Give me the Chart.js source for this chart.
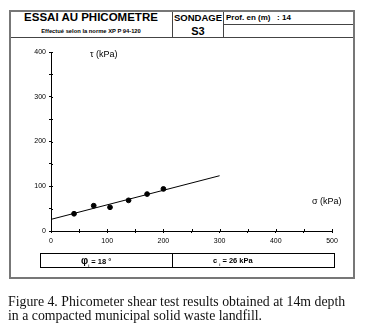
<!DOCTYPE html>
<html>
<head>
<meta charset="utf-8">
<script src="https://cdn.jsdelivr.net/npm/chart.js@4/dist/chart.umd.min.js"></script>
<style>
  body { margin: 0; background: #fff; font-family: "Liberation Sans", Arial, sans-serif; }
  #page { position: relative; width: 365px; height: 334px; overflow: hidden; }
  #frame { position: absolute; left: 9px; top: 10px; width: 342px; height: 265px; border: 2px solid #777; }
  .hd { position: absolute; font-weight: bold; color: #000; white-space: nowrap; }
  .line { position: absolute; background: #444; }
  #plot { position: absolute; left: 0; top: 0; }
  .lbl { position: absolute; font-size: 9px; color: #000; white-space: nowrap; }
  #res { position: absolute; left: 40px; top: 253px; width: 293px; height: 13px; border: 1.5px solid #000; }
  #res div { position: absolute; top: 0; height: 13px; line-height: 13px; font-size: 7.5px; font-weight: bold; white-space: nowrap; }
  #caption { position: absolute; left: 8px; top: 295px; font-family: "Liberation Serif", "Times New Roman", serif; font-size: 13.8px; line-height: 14px; color: #111; white-space: nowrap; }
</style>
</head>
<body>
<div id="page">
  <div id="frame"></div>
  <!-- header grid -->
  <div class="line" style="left:11px;top:37px;width:342px;height:1px"></div>
  <div class="line" style="left:172px;top:12px;width:1px;height:25px"></div>
  <div class="line" style="left:223px;top:12px;width:1px;height:25px"></div>
  <div class="line" style="left:223px;top:24px;width:130px;height:1px"></div>
  <div class="hd" style="left:20px;top:10px;width:142px;text-align:center;font-size:11.5px;line-height:15px">ESSAI AU PHICOMETRE</div>
  <div class="hd" style="left:20px;top:27px;width:142px;text-align:center;font-size:5.8px;line-height:8px">Effectué selon la norme XP P 94-120</div>
  <div class="hd" style="left:172px;top:11px;width:52px;text-align:center;font-size:9.5px;line-height:13px">SONDAGE</div>
  <div class="hd" style="left:172px;top:24px;width:52px;text-align:center;font-size:11px;line-height:14px">S3</div>
  <div class="hd" style="left:226px;top:12px;font-size:8px;line-height:12px">Prof. en (m)&nbsp;&nbsp;&nbsp;: 14</div>

  <canvas id="plot" width="365" height="334"></canvas>

  <div class="lbl" style="left:90px;top:49px">τ (kPa)</div>
  <div class="lbl" style="left:312px;top:196px">σ (kPa)</div>

  <div id="res">
    <div style="left:0;width:131px;height:13px;border-right:1.5px solid #000"></div>
    <div style="left:40px"><span style="font-size:10px">φ</span><sub style="font-size:4px">i</sub> = 18 °</div>
    <div style="left:172px">c <sub style="font-size:4px">i</sub> = 26 kPa</div>
  </div>

  <div id="caption">Figure 4. Phicometer shear test results obtained at 14m depth<br>in a compacted municipal solid waste landfill.</div>
</div>
<script>
// normal stress sigma (kPa) and shear stress tau (kPa) of the test points
const sigma = [41, 76, 105, 138, 171, 200];
const tau = [38.5, 56.5, 53, 68.5, 82.5, 94];
// fitted Coulomb line, phi = 18 deg, c = 26 kPa
const fitSigma = [0, 300];
const fitTau = [26, 123.5];

const points = sigma.map((s, i) => ({ x: s, y: tau[i] }));
const fitLine = fitSigma.map((s, i) => ({ x: s, y: fitTau[i] }));

// tick marks cross the axis, draw the inner half here
const innerTicks = {
  id: "innerTicks",
  afterDraw(chart) {
    const ctx = chart.ctx;
    const xs = chart.scales.x, ys = chart.scales.y;
    ctx.save();
    ctx.strokeStyle = "#000";
    ctx.lineWidth = 1;
    ctx.beginPath();
    xs.ticks.forEach(t => {
      const px = Math.round(xs.getPixelForValue(t.value)) + 0.5;
      ctx.moveTo(px, ys.bottom);
      ctx.lineTo(px, ys.bottom - 2);
    });
    ys.ticks.forEach(t => {
      const py = Math.round(ys.getPixelForValue(t.value)) + 0.5;
      ctx.moveTo(xs.left, py);
      ctx.lineTo(xs.left + 2, py);
    });
    ctx.stroke();
    ctx.restore();
  }
};

const tickFont = { family: "Liberation Sans, Arial, sans-serif", size: 7 };

new Chart(document.getElementById("plot"), {
  type: "scatter",
  plugins: [innerTicks],
  data: {
    datasets: [
      {
        data: fitLine,
        showLine: true,
        borderColor: "#000",
        borderWidth: 1,
        pointRadius: 0,
      },
      {
        data: points,
        backgroundColor: "#000",
        borderColor: "#000",
        pointRadius: 2.4,
        pointStyle: "circle",
      },
    ],
  },
  options: {
    responsive: false,
    animation: false,
    layout: { padding: { left: 31, top: 52, right: 33, bottom: 87 } },
    plugins: { legend: { display: false }, tooltip: { enabled: false } },
    scales: {
      x: {
        type: "linear",
        min: 0,
        max: 500,
        afterFit: s => { s.height = 16; },
        border: { display: true, color: "#000", width: 1 },
        grid: { display: true, drawOnChartArea: false, drawTicks: true, tickLength: 2, color: "#000" },
        ticks: {
          stepSize: 50,
          padding: 4,
          maxRotation: 0,
          autoSkip: false,
          color: "#000",
          font: tickFont,
          callback: v => (v % 100 === 0 ? v : ""),
        },
      },
      y: {
        type: "linear",
        min: 0,
        max: 400,
        afterFit: s => { s.width = 20; },
        border: { display: true, color: "#000", width: 1 },
        grid: { display: true, drawOnChartArea: false, drawTicks: true, tickLength: 2, color: "#000" },
        ticks: {
          stepSize: 50,
          padding: 3,
          autoSkip: false,
          color: "#000",
          font: tickFont,
          callback: v => (v % 100 === 0 ? v : ""),
        },
      },
    },
  },
});
</script>
</body>
</html>
